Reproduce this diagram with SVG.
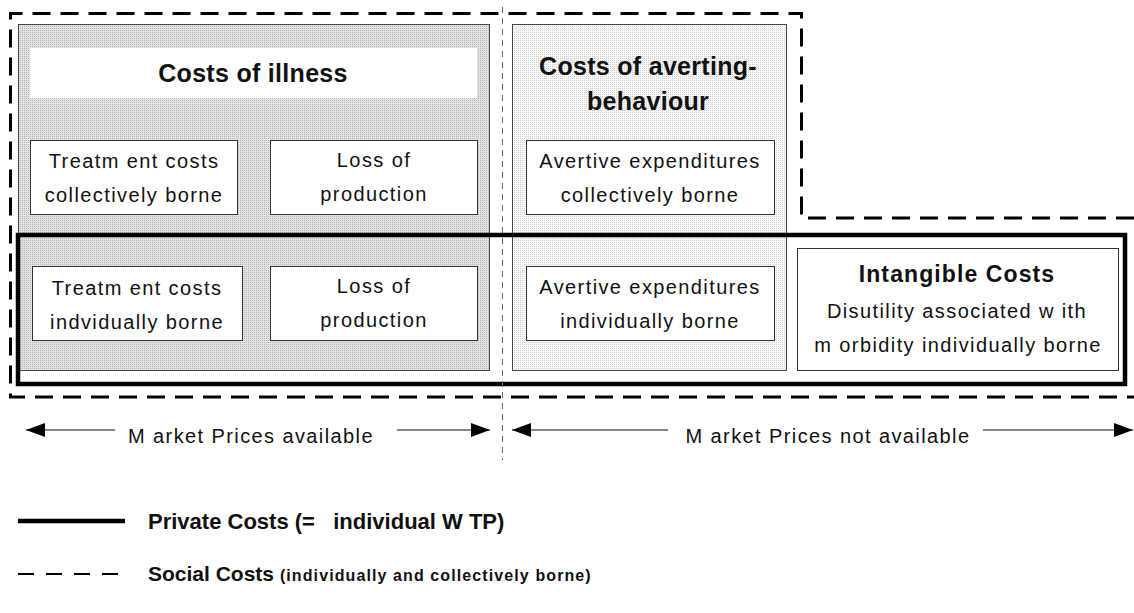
<svg xmlns="http://www.w3.org/2000/svg" width="1134" height="613" viewBox="0 0 1134 613">
<style>
text{font-family:"Liberation Sans",Arial,sans-serif;fill:#111}
.h{font-size:25px;font-weight:bold;letter-spacing:0.3px;text-anchor:middle}
.t{font-size:20px;letter-spacing:1.4px;text-anchor:middle}
.ib{font-size:23px;font-weight:bold;letter-spacing:1.1px;text-anchor:middle}
.box{fill:#fff;stroke:#333;stroke-width:1}
.lg{font-size:22px;font-weight:bold;letter-spacing:0px;white-space:pre}
.ar{stroke:#111;stroke-width:1.2;fill:none}
</style>
<defs>
<pattern id="pDark" width="2" height="2" patternUnits="userSpaceOnUse">
<rect width="2" height="2" fill="#e3e3e3"/><rect width="1" height="1" fill="#b4b4b4"/>
</pattern>
<pattern id="pLight" width="2" height="2" patternUnits="userSpaceOnUse">
<rect width="2" height="2" fill="#f7f7f7"/><rect width="1" height="1" fill="#d2d2d2"/>
</pattern>
<marker id="ah" markerWidth="19" markerHeight="14" refX="19" refY="7" orient="auto" markerUnits="userSpaceOnUse">
<path d="M0,0 L19,7 L0,14 Z" fill="#000"/>
</marker>
</defs>

<g id="illness">
<rect x="18.5" y="24.5" width="471" height="346" fill="url(#pDark)" stroke="#444"/>
<rect x="30" y="48" width="447" height="50" fill="#fff"/>
<text class="h" x="253" y="82">Costs of illness</text>
</g>
<g id="averting">
<rect x="512.5" y="24.5" width="274" height="346" fill="url(#pLight)" stroke="#444"/>
<text class="h" x="648" y="75">Costs of averting-</text>
<text class="h" x="648" y="110">behaviour</text>
</g>

<g id="treat-coll">
<rect class="box" x="30.5" y="140.5" width="207" height="74"/>
<text class="t" x="134" y="168">Treatm ent costs</text>
<text class="t" x="134" y="202">collectively borne</text>
</g>
<g id="loss-upper">
<rect class="box" x="270.5" y="140.5" width="207" height="74"/>
<text class="t" x="374" y="167">Loss of</text>
<text class="t" x="374" y="201">production</text>
</g>
<g id="avert-coll">
<rect class="box" x="526.5" y="140.5" width="248" height="74"/>
<text class="t" x="650" y="168">Avertive expenditures</text>
<text class="t" x="650" y="202">collectively borne</text>
</g>
<g id="treat-ind">
<rect class="box" x="32.5" y="266.5" width="210" height="74"/>
<text class="t" x="137" y="295">Treatm ent costs</text>
<text class="t" x="137" y="329">indvidually borne</text>
</g>
<g id="loss-lower">
<rect class="box" x="270.5" y="266.5" width="207" height="74"/>
<text class="t" x="374" y="293">Loss of</text>
<text class="t" x="374" y="327">production</text>
</g>
<g id="avert-ind">
<rect class="box" x="526.5" y="266.5" width="248" height="74"/>
<text class="t" x="650" y="294">Avertive expenditures</text>
<text class="t" x="650" y="328">individually borne</text>
</g>
<g id="intangible">
<rect class="box" x="797.5" y="248.5" width="321" height="122"/>
<text class="ib" x="957" y="282">Intangible Costs</text>
<text class="t" x="957" y="318">Disutility associated w ith</text>
<text class="t" x="958" y="352">m orbidity individually borne</text>
</g>

<g id="boundaries">
<path d="M1134,218 H801.5 V13.5 H10.5 V397 H1134" fill="none" stroke="#000" stroke-width="3" stroke-dasharray="18 10"/>
<rect x="18" y="235" width="1107" height="149" fill="none" stroke="#000" stroke-width="4.5"/>
<line x1="502.5" y1="7" x2="502.5" y2="460" stroke="#666" stroke-width="1" stroke-dasharray="6 5"/>
</g>

<g id="connectors">
<line class="ar" x1="115" y1="430" x2="26" y2="430" marker-end="url(#ah)"/>
<line class="ar" x1="397" y1="430" x2="490" y2="430" marker-end="url(#ah)"/>
<line class="ar" x1="668" y1="430" x2="512" y2="430" marker-end="url(#ah)"/>
<line class="ar" x1="983" y1="430" x2="1133" y2="430" marker-end="url(#ah)"/>
</g>
<g id="market-labels">
<text class="t" x="251" y="443">M arket Prices available</text>
<text class="t" x="828" y="443">M arket Prices not available</text>
</g>

<g id="legend">
<line x1="18" y1="521" x2="125" y2="521" stroke="#000" stroke-width="4.5"/>
<text class="lg" x="148" y="529">Private Costs (=   individual W TP)</text>
<line x1="18" y1="574" x2="124" y2="574" stroke="#000" stroke-width="2" stroke-dasharray="16 12"/>
<text class="lg" x="148" y="581" style="font-size:21px">Social Costs <tspan style="font-size:16px;letter-spacing:1.1px">(individually and collectively borne)</tspan></text>
</g>
</svg>
